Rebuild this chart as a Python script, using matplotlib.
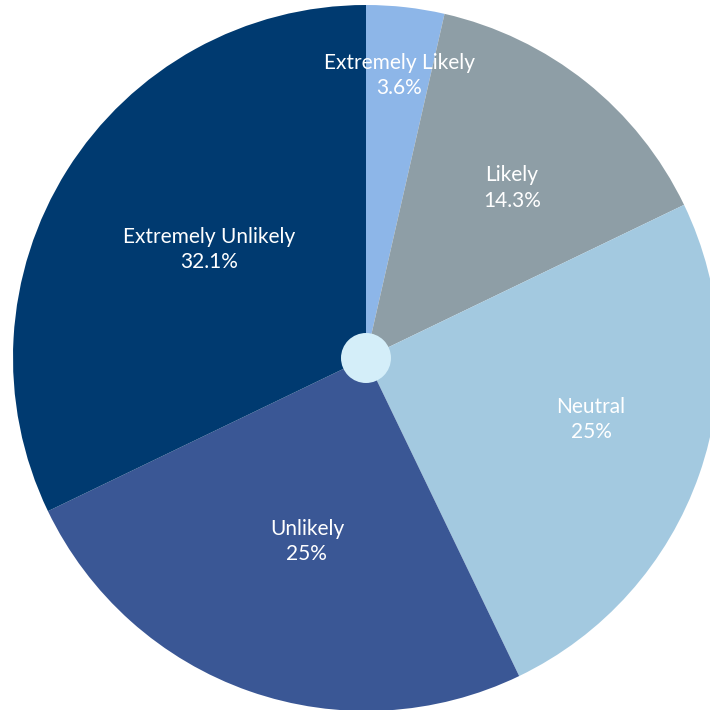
import numpy as np
import matplotlib
matplotlib.use("Agg")
import matplotlib.pyplot as plt
from matplotlib.patches import Circle

# Survey responses
categories = ["Extremely Likely", "Likely", "Neutral", "Unlikely", "Extremely Unlikely"]
counts = [1, 4, 7, 7, 9]
colors = ["#8db6e8", "#8e9ea6", "#a3c9e0", "#3a5795", "#003a70"]

# label placement: fraction of radius and angular nudge (degrees) per slice
label_radius = [0.807, 0.635, 0.661, 0.545, 0.54]
label_nudge = [-0.3, -2.1, 3.9, 1.4, -2.4]

plt.rcParams["font.family"] = ["Lato", "DejaVu Sans"]

fig = plt.figure(figsize=(7.1, 7.1), dpi=100)
ax = fig.add_axes([0, 0, 1, 1])

scale = 353.0
cx, cy = 366.0, 358.0
wedges, _ = ax.pie(counts, colors=colors, startangle=90, counterclock=False,
                   radius=1.0, wedgeprops=dict(linewidth=0))

total = sum(counts)
for w, name, n, r, d in zip(wedges, categories, counts, label_radius, label_nudge):
    mid = np.deg2rad((w.theta1 + w.theta2) / 2 + d)
    pct = 100 * n / total
    txt = f"{pct:.1f}%" if abs(pct - round(pct)) > 0.05 else f"{pct:.0f}%"
    ax.text(r * np.cos(mid), r * np.sin(mid), f"{name}\n{txt}", color="white",
            ha="center", va="center", fontsize=15, fontweight="normal",
            linespacing=1.32)

ax.add_patch(Circle((0, 0), 25 / scale, facecolor="#d4eef9", edgecolor="none", zorder=5))

ax.set_xlim((0 - cx) / scale, (710 - cx) / scale)
ax.set_ylim(-(710 - cy) / scale, cy / scale)
ax.set_aspect("equal")
ax.axis("off")

fig.savefig("out.png", dpi=100, facecolor="white")
